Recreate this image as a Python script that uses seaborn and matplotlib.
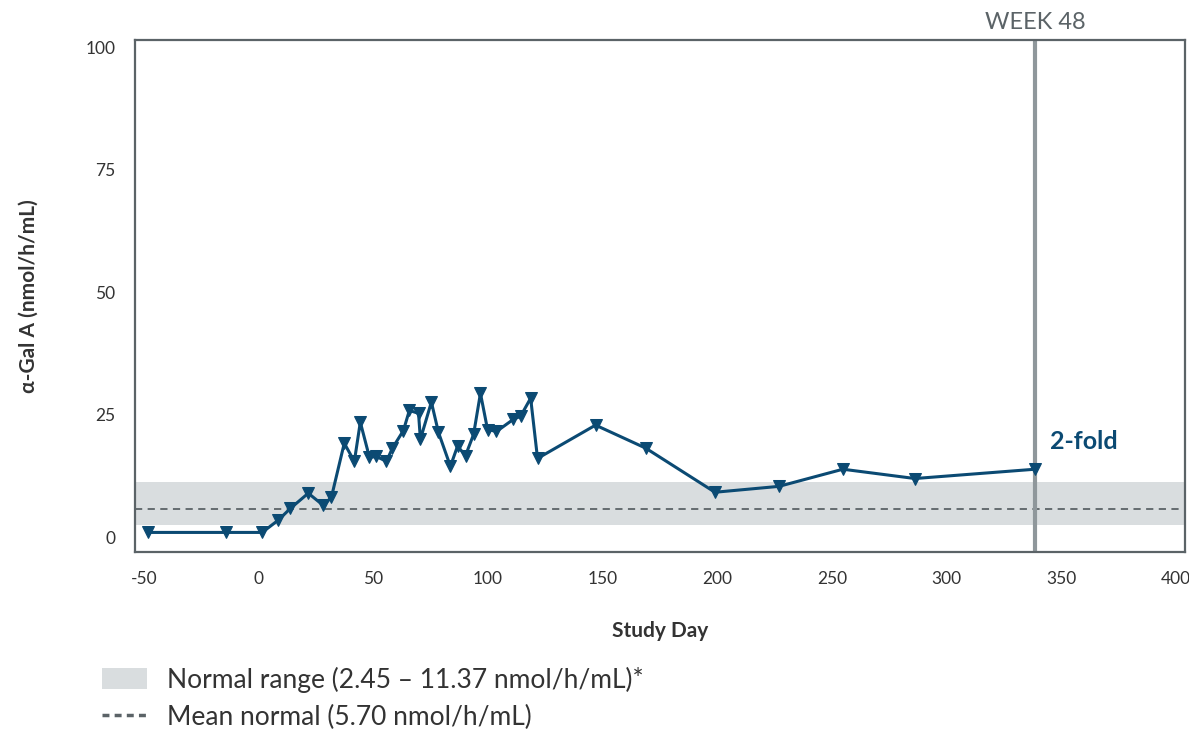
import matplotlib
matplotlib.use("Agg")
import matplotlib.pyplot as plt
import seaborn as sns
import pandas as pd
from matplotlib.patches import Patch
from matplotlib.lines import Line2D

# values
study_day = [-48.3, -14.2, 1.5, 8.5, 13.8, 21.6, 28.2, 31.7, 37.3, 41.7,
             44.3, 48.3, 51.3, 55.7, 58.3, 63.1, 65.7, 69.7, 70.5, 75.3,
             78.4, 83.6, 86.7, 90.2, 93.7, 96.7, 99.8, 103.7, 111.1, 114.2,
             118.6, 121.6, 146.9, 168.8, 199.0, 226.9, 254.8, 286.2, 338.6]
agal_a = [1.0, 1.0, 1.0, 3.5, 5.9, 9.0, 6.5, 8.2, 19.2, 15.5,
          23.5, 16.3, 16.5, 15.5, 18.2, 21.8, 25.9, 25.3, 20.0, 27.6,
          21.4, 14.5, 18.6, 16.7, 21.0, 29.4, 22.0, 21.6, 24.1, 24.7,
          28.4, 16.1, 22.9, 18.2, 9.2, 10.4, 13.9, 12.0, 13.9]

normal_low = 2.45
normal_high = 11.37
mean_normal = 5.70
week48_day = 338.6

x_ticks = [-50, 0, 50, 100, 150, 200, 250, 300, 350, 400]
y_ticks = [0, 25, 50, 75, 100]

navy = "#0b4a73"
band_color = "#d9dddf"
axis_grey = "#5b6367"

sns.set_style("white")
plt.rcParams["font.family"] = ["Lato", "DejaVu Sans"]
plt.rcParams["axes.unicode_minus"] = False

df = pd.DataFrame({"day": study_day, "agal": agal_a})

fig = plt.figure(figsize=(11.89, 7.33), dpi=100)
ax = fig.add_axes([0.1135, 0.2469, 0.8831, 0.6985])

ax.axhspan(normal_low, normal_high, color=band_color, zorder=0, lw=0)
ax.axhline(mean_normal, color=axis_grey, ls=(0, (4, 3)), lw=1.3, zorder=1)
ax.axvline(week48_day, color="#8f979b", lw=3, zorder=1)

sns.lineplot(data=df, x="day", y="agal", ax=ax, color=navy, lw=2.2,
             marker="v", markersize=9, markeredgecolor=navy, zorder=3)

ax.set_xlim(-54, 404)
ax.set_ylim(-3, 101.5)
ax.set_xticks(x_ticks)
ax.set_yticks(y_ticks)
ax.tick_params(axis="both", direction="out", length=8, width=1.2,
               color=axis_grey, labelsize=12.5, labelcolor="#333333", pad=6)
for s in ax.spines.values():
    s.set_color(axis_grey)
    s.set_linewidth(1.6)

ax.set_xlabel("Study Day", fontsize=15, fontweight="bold", color="#333333", labelpad=24)
ax.set_ylabel("α-Gal A (nmol/h/mL)", fontsize=15, fontweight="bold", color="#333333", labelpad=34)

ax.text(week48_day, 103, "WEEK 48", ha="center", va="bottom", fontsize=17,
        color="#5b6367", clip_on=False)
ax.text(345, 19.5, "2-fold", ha="left", va="center", fontsize=18,
        fontweight="bold", color=navy)

handles = [Patch(facecolor=band_color, edgecolor="none"),
           Line2D([0], [0], color=axis_grey, ls=(0, (2, 1.5)), lw=2.5)]
labels = ["Normal range (2.45 \u2013 11.37 nmol/h/mL)*",
          "Mean normal (5.70 nmol/h/mL)"]
fig.legend(handles, labels, loc="upper left", bbox_to_anchor=(0.066, 0.123),
           frameon=False, fontsize=19, handlelength=1.7, handleheight=0.8,
           labelspacing=0.45, handletextpad=0.75, labelcolor="#333333")

fig.savefig("out.png", dpi=100)
